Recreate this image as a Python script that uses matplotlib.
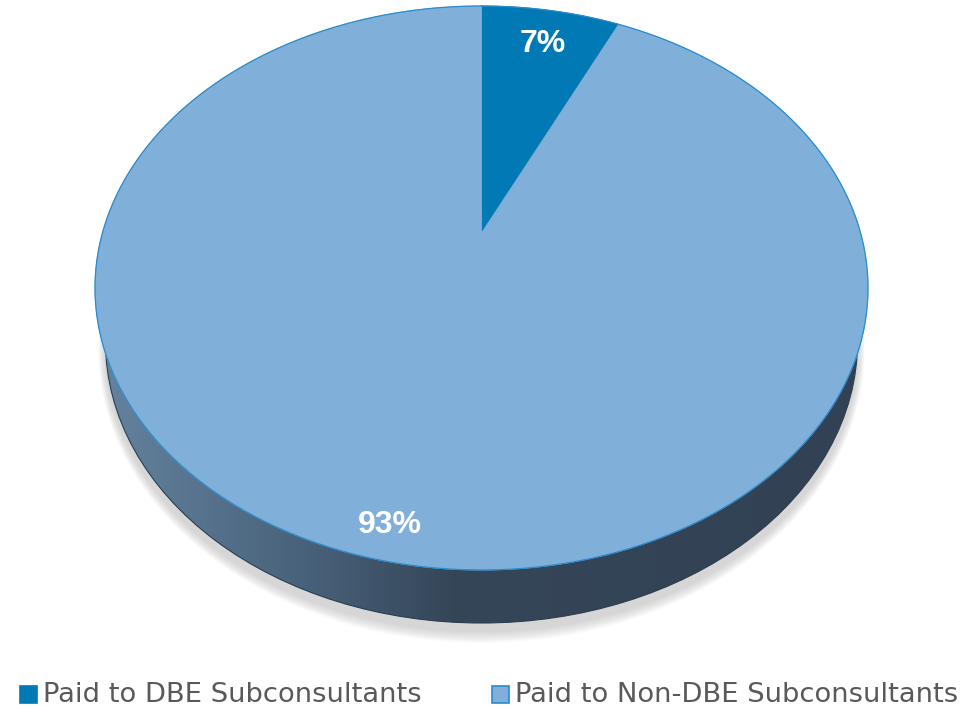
import matplotlib.pyplot as plt
import numpy as np
from matplotlib.patches import Ellipse, Polygon, Rectangle
from matplotlib.colors import LinearSegmentedColormap

labels = ["Paid to DBE Subconsultants", "Paid to Non-DBE Subconsultants"]
shares = [7, 93]
pct_text = ["7%", "93%"]
colors = ["#0079b5", "#80afda"]

W, H = 969, 709

# perspective of the top face: far edge, near edge, centre point of the disc
cx, half_w = 481.5, 386.5
y_far, y_near, y_mid = 6.0, 570.0, 233.0
# y = (a v + b) / (c v + 1) with v=1 -> far edge, v=-1 -> near edge, v=0 -> centre
b = y_mid
A = np.array([[1.0, -y_far], [-1.0, y_near]])
rhs = np.array([y_far - b, y_near - b])
a, c = np.linalg.solve(A, rhs)
k = half_w * np.sqrt(1 - c ** 2)


def project(theta):
    u, v = np.sin(theta), np.cos(theta)
    w = 1 + c * v
    return cx + k * u / w, (a * v + b) / w


fig = plt.figure(figsize=(W / 100, H / 100), dpi=100)
ax = fig.add_axes([0, 0, 1, 1])

# bottom face of the disc (only its near rim shows)
bcx, bcy, brx, bry = 481.5, 342.0, 376.0, 281.0

# soft shadow under the rim
for i in range(12):
    grow = 12 - i
    ax.add_patch(Ellipse((bcx, bcy + 8), 2 * (brx + 0.6 * grow), 2 * (bry + grow),
                         facecolor="#808080", edgecolor="none", alpha=0.028, zorder=1))

ax.add_patch(Ellipse((bcx, bcy), 2 * brx, 2 * bry, facecolor="none",
                     edgecolor="#2b3d50", linewidth=0.8, zorder=3))
wall_cmap = LinearSegmentedColormap.from_list(
    "wall",
    [(0.0, (100 / 255, 130 / 255, 158 / 255)),
     (0.27, (72 / 255, 97 / 255, 122 / 255)),
     (0.46, (53 / 255, 70 / 255, 88 / 255)),
     (1.0, (50 / 255, 66 / 255, 84 / 255))])
grad = np.linspace(0, 1, 512)[None, :]
im = ax.imshow(grad, cmap=wall_cmap, extent=(bcx - brx, bcx + brx, bcy + bry, bcy - bry),
               aspect="auto", zorder=2, interpolation="bilinear")
im.set_clip_path(Ellipse((bcx, bcy), 2 * brx, 2 * bry, transform=ax.transData))

# top face wedges, clockwise from twelve o'clock
bounds = np.concatenate([[0], np.cumsum(shares)]) / np.sum(shares) * 2 * np.pi
for i, (t0, t1) in enumerate(zip(bounds[:-1], bounds[1:])):
    t = np.linspace(t0, t1, 400)
    xs, ys = project(t)
    pts = np.column_stack([np.r_[cx, xs], np.r_[b, ys]])
    ax.add_patch(Polygon(pts, closed=True, facecolor=colors[i], edgecolor=colors[i],
                         linewidth=0.6, zorder=4))

t = np.linspace(0, 2 * np.pi, 800)
xs, ys = project(t)
ax.plot(xs, ys, color="#2a8ccc", linewidth=0.9, zorder=5)

# percentage labels
ax.text(543, 44, pct_text[0], color="white", fontsize=23, fontweight="bold",
        family="Liberation Sans", ha="center", va="center", zorder=6)
ax.text(390, 525, pct_text[1], color="white", fontsize=23, fontweight="bold",
        family="Liberation Sans", ha="center", va="center", zorder=6)

# legend
legend_x = [20, 492]
for i, lab in enumerate(labels):
    x0 = legend_x[i]
    ax.add_patch(Rectangle((x0, 686), 17, 17, facecolor=colors[i],
                           edgecolor="#0079b5" if i == 0 else "#2a8ccc",
                           linewidth=1.2, zorder=6))
    ax.text(x0 + 23, 694.5, lab, color="#595959", fontsize=19.7, family="DejaVu Sans",
            ha="left", va="center", zorder=6)

ax.set_xlim(0, W)
ax.set_ylim(H, 0)
ax.axis("off")
fig.savefig("out.png", dpi=100)
